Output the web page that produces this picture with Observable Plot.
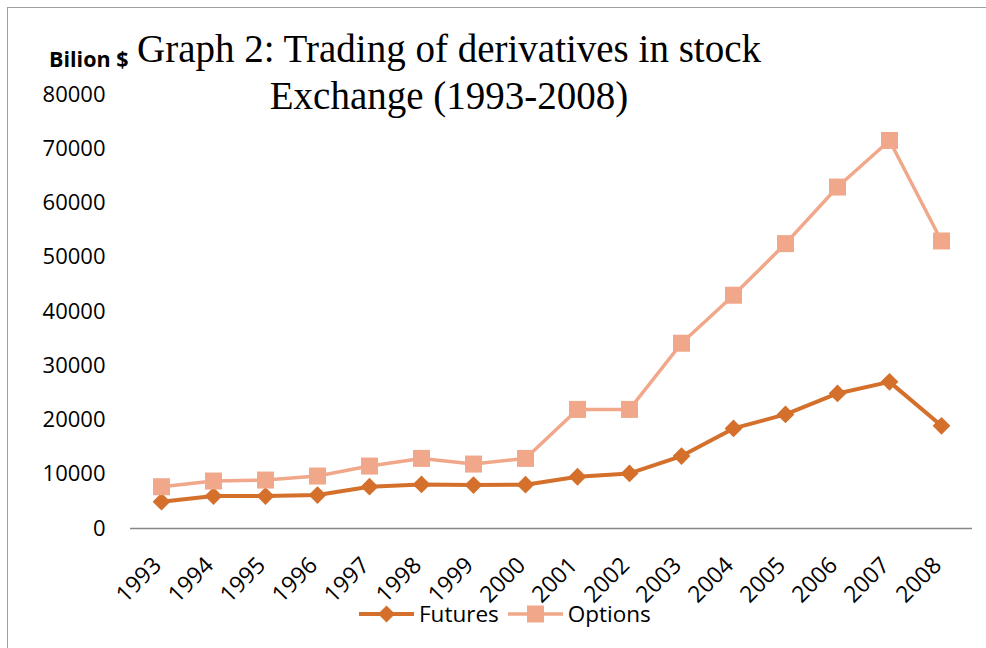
<!DOCTYPE html>
<html>
<head>
<meta charset="utf-8">
<script src="https://cdn.jsdelivr.net/npm/d3@7"></script>
<script src="https://cdn.jsdelivr.net/npm/@observablehq/plot@0.6"></script>
<style>
  html, body { margin: 0; padding: 0; background: #fff; }
  #wrap { position: relative; width: 986px; height: 648px; overflow: hidden; background: #fff; }
  #frame { position: absolute; left: 7px; top: 7px; width: 1200px; height: 800px;
           border-left: 1.5px solid #a0a0a0; border-top: 1.5px solid #a0a0a0; }
  #chart { position: absolute; left: 0; top: 0; }
  #title { position: absolute; left: 99px; width: 700px; top: 25px; text-align: center; white-space: nowrap;
           font-family: "Liberation Serif", serif; font-size: 39px; line-height: 47px; color: #000; }
  #unit { position: absolute; left: 49px; top: 44px; font-family: "Open Sans", sans-serif;
          font-weight: bold; font-size: 21.5px; color: #000; }
  #legend { position: absolute; left: 359px; top: 598px; display: flex; align-items: center;
            font-family: "Open Sans", sans-serif; font-size: 22.5px; color: #000; }
  #legend .item { display: flex; align-items: center; }
  #legend svg { display: block; }
</style>
</head>
<body>
<div id="wrap">
  <div id="frame"></div>
  <div id="chart"></div>
  <div id="title">Graph 2: Trading of derivatives in stock<br>Exchange (1993-2008)</div>
  <div id="unit">Bilion $</div>
  <div id="legend"></div>
</div>
<script>
const years = ["1993","1994","1995","1996","1997","1998","1999","2000","2001","2002","2003","2004","2005","2006","2007","2008"];
const futures = [4950, 5980, 5980, 6170, 7700, 8130, 8010, 8080, 9540, 10160, 13350, 18450, 21030, 24890, 27030, 18930];
const options = [7700, 8750, 8930, 9670, 11510, 12920, 11880, 12920, 21950, 21950, 34150, 43000, 52510, 62940, 71530, 53000];
const yTicks = [0, 10000, 20000, 30000, 40000, 50000, 60000, 70000, 80000];
const seriesNames = ["Futures", "Options"];
const seriesColors = ["#D4702B", "#F1A88A"];

const futData = years.map((yr, i) => ({year: yr, value: futures[i]}));
const optData = years.map((yr, i) => ({year: yr, value: options[i]}));

const chart = Plot.plot({
  width: 986,
  height: 648,
  marginLeft: 130,
  marginRight: 14,
  marginTop: 94,
  marginBottom: 120,
  style: {fontFamily: "'Open Sans', sans-serif", fontSize: "22px", color: "#000", background: "transparent"},
  x: {type: "point", domain: years, padding: 0.5, label: null},
  y: {domain: [0, 80000], label: null},
  marks: [
    Plot.axisY({ticks: yTicks, tickSize: 0, tickPadding: 25, tickFormat: d => String(d), label: null, fontSize: 22}),
    Plot.axisX({tickSize: 0, tickRotate: -45, tickPadding: 33, dx: -4, label: null, fontSize: 23}),
    Plot.ruleY([0], {stroke: "#868686", strokeWidth: 1.3}),
    Plot.line(futData, {x: "year", y: "value", stroke: seriesColors[0], strokeWidth: 4}),
    Plot.dot(futData, {x: "year", y: "value", symbol: "diamond2", r: 8, fill: seriesColors[0], stroke: "none"}),
    Plot.line(optData, {x: "year", y: "value", stroke: seriesColors[1], strokeWidth: 3.5}),
    Plot.dot(optData, {x: "year", y: "value", symbol: "square", r: 9.6, fill: seriesColors[1], stroke: "none"})
  ]
});
document.getElementById("chart").appendChild(chart);

// legend
const legend = document.getElementById("legend");
seriesNames.forEach((name, i) => {
  const item = document.createElement("div");
  item.className = "item";
  item.style.marginRight = i === 0 ? "9px" : "0";
  const ns = "http://www.w3.org/2000/svg";
  const svg = document.createElementNS(ns, "svg");
  svg.setAttribute("width", 55);
  svg.setAttribute("height", 30);
  const line = document.createElementNS(ns, "line");
  line.setAttribute("x1", 0); line.setAttribute("x2", 55);
  line.setAttribute("y1", 15); line.setAttribute("y2", 15);
  line.setAttribute("stroke", seriesColors[i]);
  line.setAttribute("stroke-width", i === 0 ? 4 : 3.5);
  svg.appendChild(line);
  const m = document.createElementNS(ns, "path");
  m.setAttribute("d", i === 0 ? "M27.5,6.5L36,15L27.5,23.5L19,15Z" : "M19,6.5H36V23.5H19Z");
  m.setAttribute("fill", seriesColors[i]);
  svg.appendChild(m);
  item.appendChild(svg);
  const t = document.createElement("span");
  t.textContent = name;
  t.style.marginLeft = "5px";
  item.appendChild(t);
  legend.appendChild(item);
});
</script>
</body>
</html>
